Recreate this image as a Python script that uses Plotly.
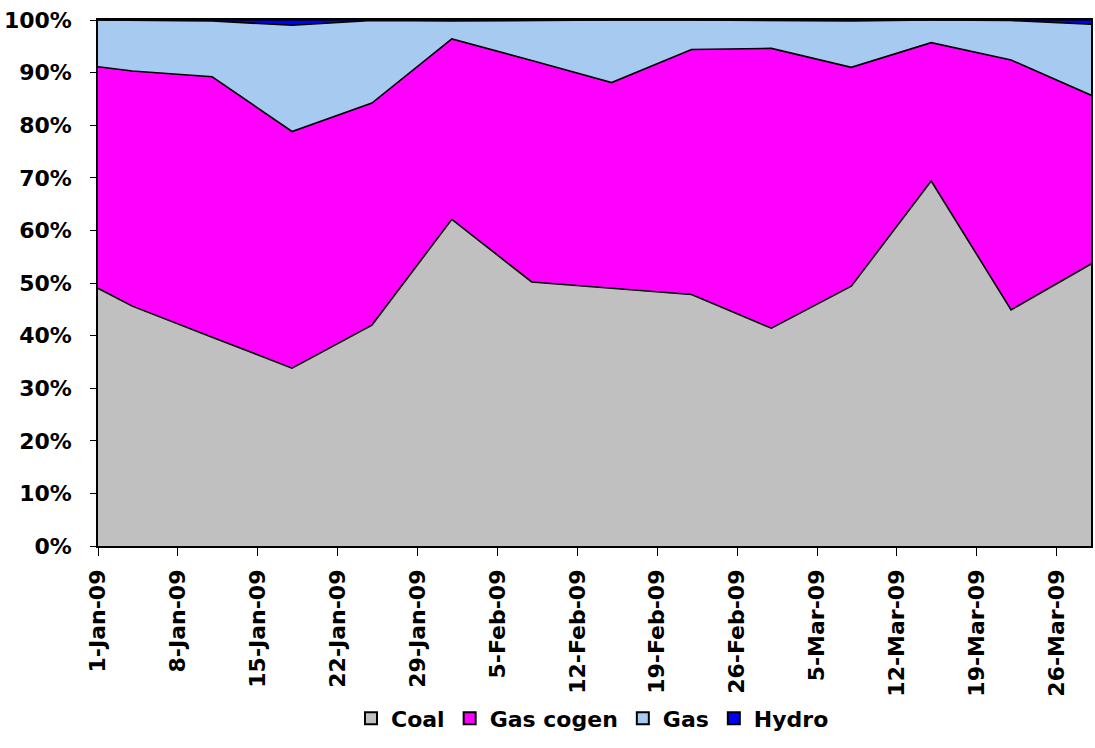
import plotly.graph_objects as go

dates = ["2009-01-01", "2009-01-04", "2009-01-11", "2009-01-18", "2009-01-25",
         "2009-02-01", "2009-02-08", "2009-02-15", "2009-02-22", "2009-03-01",
         "2009-03-08", "2009-03-15", "2009-03-22", "2009-03-29"]

# shares in percent
coal      = [49.0, 45.6, 39.7, 33.8, 42.0, 62.1, 50.2, 49.0, 47.8, 41.4, 49.4, 69.4, 44.9, 53.6]
gas_cogen = [42.1, 44.7, 49.5, 45.0, 42.2, 34.3, 42.1, 39.1, 46.6, 53.2, 41.6, 26.3, 47.5, 32.1]
gas       = [8.9, 9.65, 10.6, 20.2, 15.7, 3.4, 7.65, 11.9, 5.6, 5.3, 8.8, 4.3, 7.5, 13.5]
hydro     = [0.0, 0.05, 0.2, 1.0, 0.1, 0.2, 0.05, 0.0, 0.0, 0.1, 0.2, 0.0, 0.1, 0.8]

names = ["Coal", "Gas cogen", "Gas", "Hydro"]
colors = ["#C0C0C0", "#FF00FF", "#A6CAF0", "#0000FF"]
series = [coal, gas_cogen, gas, hydro]

tick_dates = ["2009-01-01", "2009-01-08", "2009-01-15", "2009-01-22", "2009-01-29",
              "2009-02-05", "2009-02-12", "2009-02-19", "2009-02-26", "2009-03-05",
              "2009-03-12", "2009-03-19", "2009-03-26"]
y_ticks = list(range(0, 101, 10))
y_labels = [f"{v}%" for v in y_ticks]

FONT = "DejaVu Sans"

fig = go.Figure()
for name, col, vals in zip(names, colors, series):
    fig.add_trace(go.Scatter(
        x=dates, y=vals, name=name, mode="lines", stackgroup="one",
        fillcolor=col, line=dict(color="black", width=1.6),
        showlegend=False, hoverinfo="x+y+name"))
for name, col in zip(names, colors):
    fig.add_trace(go.Scatter(
        x=[None], y=[None], name=name, mode="markers",
        marker=dict(symbol="square", size=15, color=col,
                    line=dict(color="black", width=1)),
        showlegend=True))

fig.update_layout(
    width=1095, height=748,
    margin=dict(l=98, r=2, t=20, b=202),
    paper_bgcolor="white", plot_bgcolor="white",
    font=dict(family=FONT, size=22, color="black", weight="bold"),
    legend=dict(orientation="h", x=0.498, xanchor="center", y=-0.328, yanchor="middle",
                traceorder="normal", bgcolor="rgba(0,0,0,0)",
                font=dict(family=FONT, size=22, color="black", weight="bold"),
                itemsizing="constant", itemwidth=30, tracegroupgap=0),
    showlegend=True,
)
fig.update_xaxes(
    type="date", range=[dates[0], dates[-1]],
    tickvals=tick_dates, tickformat="%-d-%b-%y", tickangle=-90,
    ticks="outside", ticklen=8, tickcolor="black", tickwidth=1,
    showline=True, linecolor="black", linewidth=1.5, mirror=True,
    showgrid=False, zeroline=False, ticklabelstandoff=5,
    tickfont=dict(family=FONT, size=22, color="black", weight="bold"),
)
fig.update_yaxes(
    range=[0, 100], tickmode="array", tickvals=y_ticks, ticktext=y_labels,
    ticks="outside", ticklen=6, tickcolor="black", tickwidth=1,
    showline=True, linecolor="black", linewidth=1.5, mirror=True,
    showgrid=False, zeroline=False, ticklabelstandoff=14,
    tickfont=dict(family=FONT, size=22, color="black", weight="bold"),
)

fig.write_html("out.html")
